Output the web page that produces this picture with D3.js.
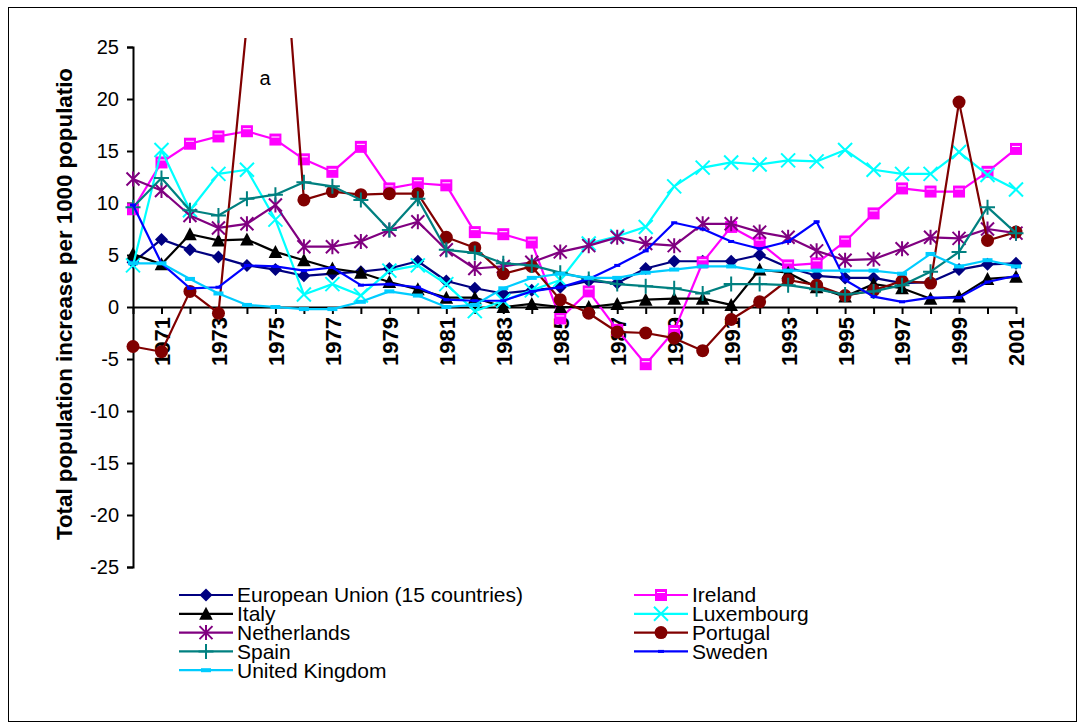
<!DOCTYPE html>
<html>
<head>
<meta charset="utf-8">
<script src="https://cdn.jsdelivr.net/npm/d3@7/dist/d3.min.js"></script>
<style>
    body { margin: 0; background: #fff; }
    text { font-family: "Liberation Sans", Arial, sans-serif; fill: #000; }
</style>
</head>
<body>
<svg id="chart" width="1080" height="727"></svg>
<script>
// years on the category axis
var years = [1970, 1971, 1972, 1973, 1974, 1975, 1976, 1977, 1978, 1979,
    1980, 1981, 1982, 1983, 1984, 1985, 1986, 1987, 1988, 1989,
    1990, 1991, 1992, 1993, 1994, 1995, 1996, 1997, 1998, 1999, 2000, 2001];

var yTicks = [-25, -20, -15, -10, -5, 0, 5, 10, 15, 20, 25];

// total population increase per 1000 population
var euValues = [4.3, 6.5, 5.5, 4.8, 4.0, 3.6, 3.0, 3.2, 3.4, 3.7, 4.4, 2.5, 1.8, 1.3, 1.6, 1.9,
    2.5, 2.3, 3.7, 4.4, 4.4, 4.4, 5.0, 3.8, 3.0, 2.8, 2.8, 2.3, 2.4, 3.6, 4.1, 4.2];
var irelandValues = [9.4, 13.9, 15.7, 16.4, 16.9, 16.1, 14.2, 13.0, 15.4, 11.4, 11.9, 11.7, 7.2, 7.0, 6.2, -1.1,
    1.5, -2.2, -5.5, -2.3, 4.3, 7.7, 6.2, 4.0, 4.2, 6.3, 9.0, 11.4, 11.1, 11.1, 13.0, 15.2];
var italyValues = [5.1, 4.1, 7.0, 6.4, 6.5, 5.3, 4.5, 3.7, 3.3, 2.4, 1.7, 0.9, 0.9, 0.0, 0.3, 0.0,
    0.0, 0.3, 0.7, 0.8, 0.8, 0.2, 3.6, 3.3, 1.9, 1.0, 2.2, 1.8, 0.8, 1.0, 2.7, 2.9];
var luxembourgValues = [4.0, 15.1, 9.3, 12.8, 13.2, 8.4, 1.2, 2.2, 1.1, 3.5, 4.0, 2.2, -0.4, 0.6, 1.6, 2.6,
    6.1, 6.8, 7.7, 11.6, 13.4, 13.9, 13.7, 14.1, 14.0, 15.1, 13.2, 12.8, 12.8, 14.9, 12.7, 11.3];
var netherlandsValues = [12.3, 11.2, 8.8, 7.6, 8.0, 9.8, 5.8, 5.8, 6.3, 7.4, 8.2, 5.5, 3.7, 3.9, 4.3, 5.3,
    5.9, 6.7, 6.1, 5.9, 8.0, 8.0, 7.2, 6.7, 5.4, 4.5, 4.6, 5.6, 6.7, 6.6, 7.5, 7.1];
var portugalValues = [-3.8, -4.3, 1.5, -0.6, 27.3, 45.9, 10.3, 11.1, 10.8, 10.9, 10.9, 6.7, 5.7, 3.2, 3.9, 0.7,
    -0.6, -2.4, -2.5, -3.0, -4.2, -1.2, 0.5, 2.6, 2.1, 1.1, 1.6, 2.5, 2.3, 19.7, 6.4, 7.2];
var spainValues = [9.6, 12.4, 9.3, 8.8, 10.4, 10.8, 12.0, 11.6, 10.3, 7.4, 10.4, 5.5, 5.2, 4.2, 4.0, 3.3,
    2.7, 2.2, 2.0, 1.8, 1.3, 2.2, 2.2, 2.1, 1.7, 1.2, 1.5, 2.1, 3.4, 5.3, 9.6, 7.1];
var swedenValues = [9.8, 4.2, 1.8, 1.9, 4.0, 3.9, 3.5, 3.8, 2.1, 2.2, 1.9, 0.7, 0.6, 0.6, 1.5, 1.9,
    2.7, 4.0, 5.4, 8.1, 7.5, 6.3, 5.6, 6.3, 8.2, 2.6, 1.0, 0.5, 0.9, 0.9, 2.4, 3.0];
var ukValues = [4.2, 4.2, 2.7, 1.3, 0.2, 0.0, -0.2, -0.2, 0.5, 1.5, 1.1, 0.0, 0.2, 1.8, 2.8, 3.2,
    2.8, 2.8, 3.3, 3.6, 3.9, 3.9, 3.5, 3.5, 3.5, 3.5, 3.5, 3.2, 5.1, 3.9, 4.5, 3.9];

var seriesNames = ["European Union (15 countries)", "Ireland", "Italy", "Luxembourg",
    "Netherlands", "Portugal", "Spain", "Sweden", "United Kingdom"];

// build the list the drawing code walks over
var seriesList = [
    {name: seriesNames[0], values: euValues, color: "#000080", marker: "diamond"},
    {name: seriesNames[1], values: irelandValues, color: "#ff00ff", marker: "square"},
    {name: seriesNames[2], values: italyValues, color: "#000000", marker: "triangle"},
    {name: seriesNames[3], values: luxembourgValues, color: "#00ffff", marker: "cross"},
    {name: seriesNames[4], values: netherlandsValues, color: "#800080", marker: "star"},
    {name: seriesNames[5], values: portugalValues, color: "#800000", marker: "circle"},
    {name: seriesNames[6], values: spainValues, color: "#008080", marker: "plus"},
    {name: seriesNames[7], values: swedenValues, color: "#0000ff", marker: "smalldash"},
    {name: seriesNames[8], values: ukValues, color: "#00ccff", marker: "dash"}
];

var svg = d3.select("#chart");

var x = d3.scaleLinear().domain([1970, 2001]).range([133, 1016]);
var y = d3.scaleLinear().domain([-25, 25]).range([567, 47]);

// outer frame
svg.append("rect")
        .attr("x", 8.5).attr("y", 7.5)
        .attr("width", 1068).attr("height", 714)
        .attr("fill", "none").attr("stroke", "#000").attr("stroke-width", 1);

/**
 * Draws one marker of the given type centred on the origin of the parent group.
 */
function drawMarker(g, type, color) {
    switch (type) {
        case "diamond" :
            g.append("path").attr("d", "M0,-6.5L6.5,0L0,6.5L-6.5,0Z").attr("fill", color);
            break;
        case "square" :
            g.append("rect").attr("x", -6).attr("y", -6).attr("width", 12).attr("height", 12)
                    .attr("fill", color);
            g.append("path").attr("d", "M-4,-2.5H4").attr("stroke", "#fff").attr("stroke-width", 1);
            break;
        case "triangle" :
            g.append("path").attr("d", "M0,-7L6.8,6L-6.8,6Z").attr("fill", color);
            break;
        case "circle" :
            g.append("circle").attr("r", 6.5).attr("fill", color);
            break;
        case "cross" :
            g.append("path").attr("d", "M-7,-7L7,7M-7,7L7,-7")
                    .attr("stroke", color).attr("stroke-width", 2);
            break;
        case "star" :
            g.append("path").attr("d", "M-6.5,-6.5L6.5,6.5M-6.5,6.5L6.5,-6.5M0,-7.5V7.5")
                    .attr("stroke", color).attr("stroke-width", 2);
            break;
        case "plus" :
            g.append("path").attr("d", "M-7.5,0H7.5M0,-7.5V7.5")
                    .attr("stroke", color).attr("stroke-width", 2);
            break;
        case "dash" :
            g.append("rect").attr("x", -5).attr("y", -2).attr("width", 10).attr("height", 4)
                    .attr("fill", color);
            break;
        case "smalldash" :
            g.append("rect").attr("x", -3).attr("y", -1.5).attr("width", 6).attr("height", 3)
                    .attr("fill", color);
            break;
        default :
            break;
    }
}

// y axis (plain hyphen for negatives, as in the original)
var yAxis = svg.append("g")
        .attr("transform", "translate(133,0)")
        .call(d3.axisLeft(y).tickValues(yTicks).tickSize(6).tickPadding(8)
                .tickFormat(function (d) {
                    return String(d);
                }));
yAxis.select(".domain").attr("stroke", "#000").attr("stroke-width", 2);
yAxis.selectAll(".tick line").attr("stroke", "#000").attr("stroke-width", 2);
yAxis.selectAll(".tick text")
        .style("font-family", "'Liberation Sans', Arial, sans-serif")
        .style("font-size", "20px").attr("fill", "#000");

// x axis along the zero line, labels every second year
var xAxis = svg.append("g")
        .attr("transform", "translate(0," + y(0) + ")")
        .call(d3.axisBottom(x).tickValues(years).tickSize(7).tickSizeOuter(0)
                .tickFormat(function (d) {
                    return (d % 2 === 1) ? d : "";
                }));
xAxis.select(".domain").attr("stroke", "#000").attr("stroke-width", 2);
xAxis.selectAll(".tick line").attr("stroke", "#000").attr("stroke-width", 2);
xAxis.selectAll(".tick text")
        .attr("transform", "rotate(-90)")
        .attr("x", -10).attr("y", 0).attr("dy", "0.36em")
        .style("text-anchor", "end")
        .style("font-family", "'Liberation Sans', Arial, sans-serif")
        .style("font-size", "22px").style("font-weight", "bold").attr("fill", "#000");

// y axis title
svg.append("text")
        .attr("transform", "translate(72,304) rotate(-90)")
        .attr("text-anchor", "middle")
        .attr("textLength", 472).attr("lengthAdjust", "spacingAndGlyphs")
        .style("font-size", "22px").style("font-weight", "bold")
        .text("Total population increase per 1000 populatio");

// clip so the Portugal spike runs off the top like in the original
svg.append("clipPath").attr("id", "plotclip")
        .append("rect").attr("x", 120).attr("y", 38).attr("width", 910).attr("height", 540);

var plot = svg.append("g").attr("clip-path", "url(#plotclip)");

var line = d3.line()
        .x(function (d, i) { return x(years[i]); })
        .y(function (d) { return y(d); });

seriesList.forEach(function (s) {
    var grp = plot.append("g").classed("series", true);
    grp.append("path")
            .attr("d", line(s.values))
            .attr("fill", "none")
            .attr("stroke", s.color)
            .attr("stroke-width", 2.2)
            .attr("stroke-linejoin", "round");
    s.values.forEach(function (v, i) {
        var m = grp.append("g").attr("transform", "translate(" + x(years[i]) + "," + y(v) + ")");
        drawMarker(m, s.marker, s.color);
    });
});

// annotation
svg.append("text").attr("x", 265).attr("y", 85).attr("text-anchor", "middle")
        .style("font-size", "20px").text("a");

// legend, two columns
var leftCol = [seriesList[0], seriesList[2], seriesList[4], seriesList[6], seriesList[8]];
var rightCol = [seriesList[1], seriesList[3], seriesList[5], seriesList[7]];

function drawLegendColumn(items, x0) {
    items.forEach(function (s, i) {
        var ly = 595 + i * 18.8;
        var g = svg.append("g");
        g.append("line")
                .attr("x1", x0).attr("x2", x0 + 54)
                .attr("y1", ly).attr("y2", ly)
                .attr("stroke", s.color).attr("stroke-width", 2.2);
        var m = g.append("g").attr("transform", "translate(" + (x0 + 27) + "," + ly + ")");
        drawMarker(m, s.marker, s.color);
        g.append("text")
                .attr("x", x0 + 58).attr("y", ly).attr("dy", "0.35em")
                .style("font-size", "21px")
                .text(s.name);
    });
}

drawLegendColumn(leftCol, 179);
drawLegendColumn(rightCol, 634);
</script>
</body>
</html>
